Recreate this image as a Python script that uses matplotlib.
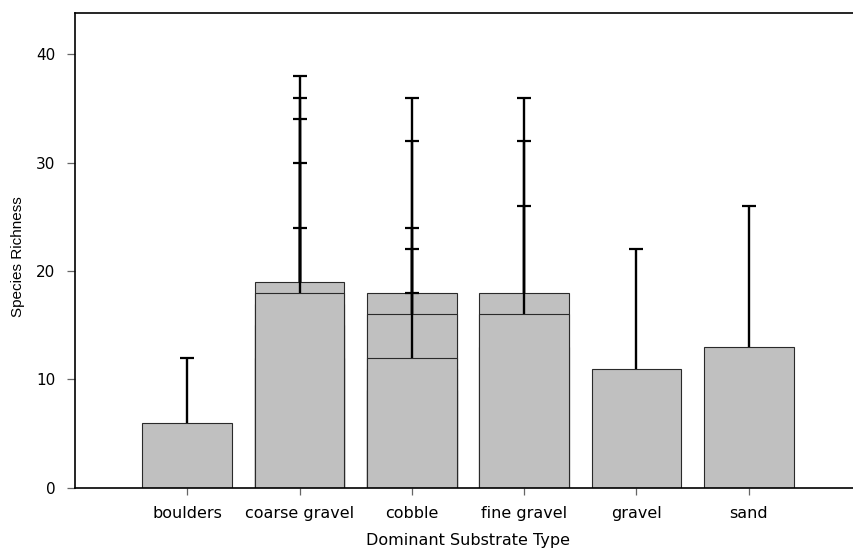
import matplotlib
matplotlib.use("Agg")
import matplotlib.pyplot as plt

# Substrate categories along the x axis
categories = ["boulders", "coarse gravel", "cobble", "fine gravel", "gravel", "sand"]

# Mean species richness per sampling site, listed in drawing order (bars overlap
# within a category), with the matching upper error for each site.
boulders_means = [6]
boulders_err = [6]
coarse_gravel_means = [17, 15, 12, 19, 18]
coarse_gravel_err = [17, 15, 12, 19, 18]
cobble_means = [11, 18, 9, 16, 12]
cobble_err = [11, 18, 9, 16, 12]
fine_gravel_means = [13, 18, 16]
fine_gravel_err = [13, 18, 16]
gravel_means = [11]
gravel_err = [11]
sand_means = [13]
sand_err = [13]

y_ticks = [0, 10, 20, 30, 40]

groups = [
    (boulders_means, boulders_err),
    (coarse_gravel_means, coarse_gravel_err),
    (cobble_means, cobble_err),
    (fine_gravel_means, fine_gravel_err),
    (gravel_means, gravel_err),
    (sand_means, sand_err),
]

fig = plt.figure(figsize=(8.54, 5.5), dpi=100)
ax = fig.add_axes([75 / 854, 62.3 / 550, 786 / 854, 474.4 / 550])

z = 2
for i, (means, errs) in enumerate(groups):
    x = i + 1
    for m, e in zip(means, errs):
        ax.bar(x, m, width=0.8, color="#c0c0c0", edgecolor="#2a2a2a",
               linewidth=0.8, zorder=z)
        _, caps, _ = ax.errorbar(x, m, yerr=[[0], [e]], fmt="none",
                                 ecolor="black", elinewidth=1.7, capsize=5.2,
                                 capthick=1.6, zorder=z + 0.5)
        # upper-only error bars: drop the cap sitting on the bar top
        caps[0].remove()
        z += 1

ax.set_xlim(0, 7)
ax.set_ylim(0, 43.8)
ax.set_xticks(range(1, len(categories) + 1))
ax.set_xticklabels(categories, fontsize=11.5, family="DejaVu Sans")
ax.set_yticks(y_ticks)
ax.set_yticklabels([str(t) for t in y_ticks], fontsize=11, family="DejaVu Sans")

ax.tick_params(axis="x", direction="out", length=5, width=0.9, color="#666666",
               pad=8.5)
ax.tick_params(axis="y", direction="out", length=6, width=0.9, color="#666666",
               pad=8)

for side in ("left", "top", "bottom", "right"):
    ax.spines[side].set_color("black")
    ax.spines[side].set_linewidth(1.2)
ax.spines["bottom"].set_zorder(z + 5)

ax.set_xlabel("Dominant Substrate Type", fontsize=11.5, family="DejaVu Sans")
ax.xaxis.set_label_coords(0.5, -0.096)
ax.set_ylabel("Species Richness", fontsize=11, family="Liberation Sans")
ax.yaxis.set_label_coords(-0.064, 0.488)

fig.savefig("out.png", dpi=100)
